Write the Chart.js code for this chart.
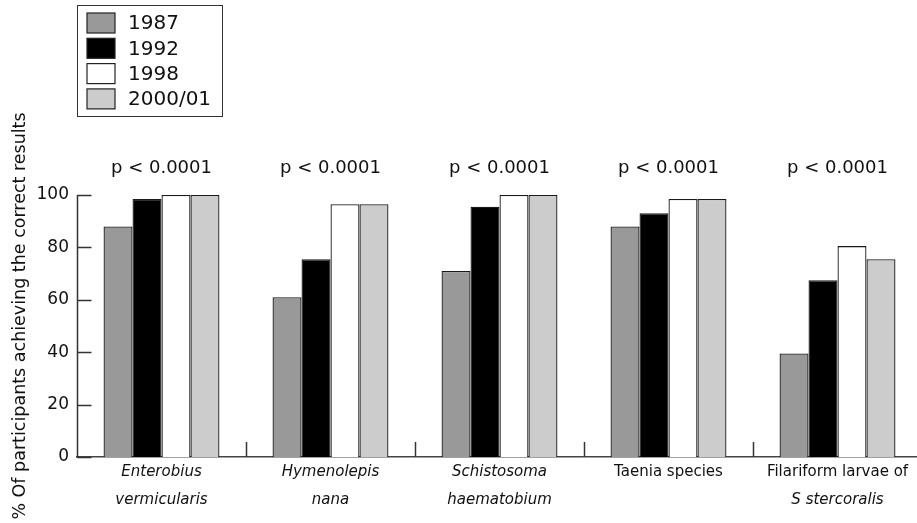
<!DOCTYPE html>
<html>
<head>
<meta charset="utf-8">
<script src="https://cdn.jsdelivr.net/npm/chart.js@4"></script>
<style>
  html, body { margin: 0; padding: 0; background: #fff; overflow: hidden; }
</style>
</head>
<body>
<canvas id="parasiteChart" width="930" height="523"></canvas>
<script>
// categories on the x axis (one entry per line of the label)
const categories = [
  ["Enterobius", "vermicularis"],
  ["Hymenolepis", "nana"],
  ["Schistosoma", "haematobium"],
  ["Taenia species"],
  ["Filariform larvae of", "S stercoralis"]
];
const seriesLabels = ["1987", "1992", "1998", "2000/01"];
const values1987 = [88, 61, 71, 88, 39.5];
const values1992 = [98.5, 75.5, 95.5, 93, 67.5];
const values1998 = [100, 96.5, 100, 98.5, 80.5];
const values2000 = [100, 96.5, 100, 98.5, 75.5];
const pLabels = ["p < 0.0001", "p < 0.0001", "p < 0.0001", "p < 0.0001", "p < 0.0001"];
const yTicks = [0, 20, 40, 60, 80, 100];
const yTitle = "% Of participants achieving the correct results";

// which label lines are set in italics
const italicLines = [[true, true], [true, true], [true, true], [false], [false, true]];
const FONT = "'DejaVu Sans', sans-serif";

// extra drawing: axis line, inward ticks, group separators, p values, labels, legend
const extrasPlugin = {
  id: "extras",
  afterDraw(chart) {
    const ctx = chart.ctx;
    const area = chart.chartArea;
    const x = chart.scales.x;
    const y = chart.scales.y;
    ctx.save();

    ctx.strokeStyle = "#333";
    ctx.lineWidth = 1.5;

    // y axis line
    const ax = Math.round(area.left) + 0.5;
    ctx.beginPath();
    ctx.moveTo(ax, Math.round(y.getPixelForValue(100)));
    ctx.lineTo(ax, Math.round(y.getPixelForValue(0)) + 1);
    ctx.stroke();

    // y ticks pointing into the plot
    yTicks.forEach((v) => {
      const py = Math.round(y.getPixelForValue(v)) + 0.5;
      ctx.beginPath();
      ctx.moveTo(ax, py);
      ctx.lineTo(ax + 14, py);
      ctx.stroke();
    });

    // small separators between the groups
    for (let i = 0; i < categories.length - 1; i++) {
      const px = Math.round((x.getPixelForValue(i) + x.getPixelForValue(i + 1)) / 2) + 0.5;
      ctx.beginPath();
      ctx.moveTo(px, area.bottom);
      ctx.lineTo(px, area.bottom - 15);
      ctx.stroke();
    }

    // p values over each group
    ctx.fillStyle = "#111";
    ctx.textAlign = "center";
    ctx.textBaseline = "middle";
    ctx.font = "18px " + FONT;
    pLabels.forEach((t, i) => {
      ctx.fillText(t, x.getPixelForValue(i), 168);
    });

    // category labels under the axis
    chart.data.labels.forEach((lines, i) => {
      lines.forEach((line, j) => {
        ctx.font = (italicLines[i][j] ? "italic " : "") + "15px " + FONT;
        ctx.fillText(line, x.getPixelForValue(i), area.bottom + 15 + j * 28);
      });
    });

    // y axis title
    ctx.save();
    ctx.translate(20, 316);
    ctx.rotate(-Math.PI / 2);
    ctx.font = "17.5px " + FONT;
    ctx.fillText(yTitle, 0, 0);
    ctx.restore();

    // legend box
    ctx.strokeStyle = "#333";
    ctx.lineWidth = 1;
    ctx.strokeRect(77.5, 5.5, 145, 111);
    ctx.textAlign = "left";
    ctx.font = "20px " + FONT;
    chart.data.datasets.forEach((ds, i) => {
      const top = 13 + i * 25.3;
      ctx.fillStyle = ds.backgroundColor;
      ctx.fillRect(87, top, 28, 20);
      ctx.strokeStyle = "#222";
      ctx.lineWidth = 1.2;
      ctx.strokeRect(87, top, 28, 20);
      ctx.fillStyle = "#111";
      ctx.fillText(ds.label, 128, top + 11);
    });

    ctx.restore();
  }
};

const barColors = ["#999999", "#000000", "#ffffff", "#cccccc"];
const seriesValues = [values1987, values1992, values1998, values2000];

const ctx = document.getElementById("parasiteChart").getContext("2d");
const parasiteChart = new Chart(ctx, {
  type: "bar",
  data: {
    labels: categories,
    datasets: seriesLabels.map((label, i) => ({
      label: label,
      data: seriesValues[i],
      backgroundColor: barColors[i],
      borderColor: "#1a1a1a",
      borderWidth: 1.3,
      categoryPercentage: 0.686,
      barPercentage: 1.0
    }))
  },
  options: {
    responsive: false,
    animation: false,
    layout: { padding: { top: 195, right: 8, left: 0, bottom: 0 } },
    plugins: {
      legend: { display: false },
      tooltip: { enabled: false }
    },
    scales: {
      x: {
        type: "category",
        offset: true,
        grid: { display: false },
        border: { display: true, color: "#444", width: 1.4 },
        ticks: { display: false },
        afterFit: (s) => { s.height = 66; }
      },
      y: {
        min: 0,
        max: 100,
        grid: { display: false, drawTicks: false },
        border: { display: false },
        ticks: {
          stepSize: 20,
          padding: 8,
          color: "#111",
          font: { family: "DejaVu Sans", size: 17 }
        },
        afterFit: (s) => { s.width = 77; }
      }
    }
  },
  plugins: [extrasPlugin]
});
</script>
</body>
</html>
